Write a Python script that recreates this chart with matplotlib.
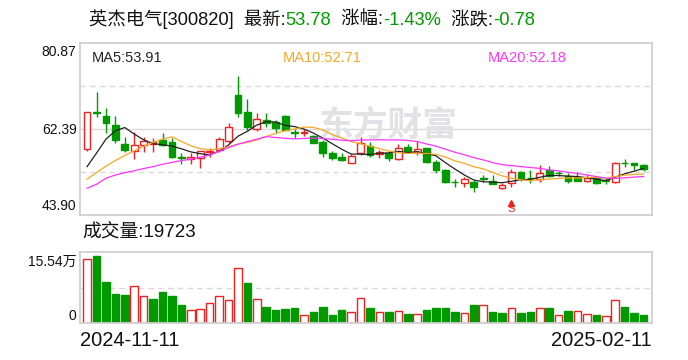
import matplotlib
matplotlib.use("Agg")
import matplotlib.pyplot as plt
import numpy as np

plt.rcParams["font.family"] = ["Liberation Sans", "Noto Sans CJK SC"]

# daily K-line, 2024-11-11 .. 2025-02-11 (60 trading days)
opens = [58.15, 65.90, 65.18, 63.25, 59.16, 57.60, 58.89, 59.16, 59.96, 59.60,
         56.30, 56.00, 56.09, 57.35, 57.88, 59.75, 69.70, 66.04, 62.45, 64.32,
         63.96, 65.18, 61.70, 61.60, 60.88, 59.66, 57.30, 56.43, 55.15, 57.16,
         58.74, 57.10, 57.30, 55.88, 58.46, 57.50, 58.24, 55.36, 53.58, 51.00,
         50.85, 51.06, 51.80, 51.27, 49.65, 50.85, 53.08, 51.90, 51.58, 53.58,
         52.90, 52.35, 52.00, 51.27, 51.92, 51.30, 50.93, 55.05, 55.05, 54.60]
closes = [65.98, 65.89, 63.74, 60.03, 57.88, 58.89, 59.75, 59.60, 58.95, 56.31,
          56.10, 56.40, 57.60, 57.75, 60.18, 62.88, 65.76, 62.88, 64.47, 63.74,
          62.54, 62.17, 61.60, 61.80, 59.44, 57.16, 56.09, 55.73, 56.59, 59.32,
          56.80, 57.40, 56.10, 58.37, 57.73, 58.00, 55.36, 53.58, 51.06, 50.90,
          51.58, 49.99, 51.70, 50.57, 50.35, 53.08, 51.80, 51.75, 53.00, 52.36,
          52.87, 51.27, 51.30, 51.80, 50.72, 51.27, 55.02, 55.00, 54.56, 53.78]
highs = [66.10, 70.34, 66.84, 65.18, 60.73, 61.74, 60.61, 60.39, 61.46, 60.39,
         57.30, 57.16, 57.65, 58.40, 60.73, 63.61, 73.78, 68.77, 65.76, 65.76,
         64.32, 65.30, 62.30, 62.30, 61.00, 60.00, 57.60, 57.20, 57.00, 60.60,
         59.50, 57.90, 57.60, 59.10, 59.20, 59.90, 58.40, 55.70, 53.70, 51.60,
         52.10, 51.40, 52.50, 52.40, 50.70, 53.70, 53.30, 53.60, 54.60, 54.40,
         53.40, 53.00, 53.10, 52.70, 52.30, 51.80, 55.20, 55.90, 55.10, 54.80]
lows = [57.72, 65.03, 61.59, 59.32, 57.45, 55.88, 57.51, 57.40, 58.74, 56.09,
        54.80, 54.80, 53.94, 56.30, 57.51, 59.32, 65.03, 62.17, 62.02, 62.75,
        61.60, 62.10, 60.40, 60.80, 59.30, 56.40, 55.70, 55.40, 55.00, 56.80,
        56.40, 56.10, 55.60, 55.70, 57.20, 56.80, 55.00, 53.00, 50.85, 50.00,
        50.00, 48.90, 51.06, 50.57, 49.40, 50.00, 51.30, 50.70, 51.06, 52.10,
        52.30, 50.85, 51.27, 51.06, 50.50, 50.60, 50.72, 54.20, 53.60, 53.30]
# volume in 万手
volumes = [14.84, 15.54, 9.51, 6.72, 6.49, 8.51, 6.19, 5.57, 7.19, 6.26,
           4.17, 2.94, 3.18, 4.56, 6.19, 5.26, 12.68, 9.28, 5.49, 3.71,
           3.01, 3.25, 3.48, 1.78, 2.55, 3.71, 1.86, 3.01, 2.55, 5.72,
           3.48, 2.55, 2.55, 2.78, 2.09, 2.09, 3.01, 3.48, 3.48, 2.55,
           2.24, 4.17, 4.17, 2.55, 2.32, 3.40, 2.32, 2.55, 3.40, 3.40,
           1.78, 2.78, 2.78, 2.09, 1.86, 1.55, 5.26, 3.71, 2.32, 1.97]
latest_volume = 19723
ma5 = [54.30, 57.20, 60.20, 62.00, 62.70, 61.29, 60.06, 59.23, 59.01, 58.70,
       58.14, 57.47, 57.07, 56.83, 57.61, 58.96, 60.83, 61.89, 63.23, 63.95,
       63.88, 63.16, 62.90, 62.37, 61.51, 60.43, 59.22, 58.04, 57.00, 56.98,
       56.91, 57.17, 57.24, 57.60, 57.28, 57.52, 57.11, 56.61, 55.15, 53.78,
       52.50, 51.42, 51.05, 50.95, 50.84, 51.14, 51.50, 51.52, 52.01, 52.41,
       52.37, 52.26, 52.16, 51.92, 51.59, 51.27, 52.02, 52.76, 53.31, 53.91]
ma10 = [51.60, 53.00, 54.40, 55.60, 56.70, 57.70, 58.70, 59.50, 60.20, 60.70,
        59.71, 58.77, 58.15, 57.92, 58.15, 58.56, 59.16, 59.49, 60.04, 60.78,
        61.43, 62.00, 62.40, 62.80, 62.73, 62.16, 61.19, 60.47, 59.69, 59.24,
        58.67, 58.19, 57.64, 57.30, 57.13, 57.21, 57.14, 56.93, 56.37, 55.53,
        55.01, 54.27, 53.83, 53.05, 52.31, 51.82, 51.46, 51.28, 51.48, 51.62,
        51.75, 51.88, 51.84, 51.96, 52.00, 51.82, 52.14, 52.46, 52.62, 52.71]
ma20 = [49.65, 50.50, 51.80, 52.50, 53.00, 53.40, 53.90, 54.30, 54.80, 55.20,
        55.60, 55.90, 56.30, 56.80, 57.60, 58.40, 59.10, 59.70, 60.20, 60.74,
        60.56, 60.38, 60.27, 60.36, 60.44, 60.35, 60.17, 59.98, 59.86, 60.01,
        60.04, 60.09, 60.02, 60.05, 59.93, 59.68, 59.16, 58.70, 58.03, 57.39,
        56.84, 56.23, 55.74, 55.17, 54.72, 54.52, 54.30, 54.10, 53.92, 53.58,
        53.38, 53.07, 52.83, 52.51, 52.15, 51.82, 51.80, 51.87, 52.05, 52.18]
price_lo, price_hi = 43.90, 80.87
start_date, end_date = "2024-11-11", "2025-02-11"
signal_idx = 45

RED = "#f02020"
GREEN = "#009a00"
GRID = "#d9d9d9"
FRAME = "#d0d0d0"
TXT = "#111111"

o = np.array(opens); c = np.array(closes)
h = np.array(highs); l = np.array(lows)
x = np.arange(len(c))
up = c >= o
col = np.where(up, RED, GREEN)
face = np.where(up, "white", GREEN)
blo = np.minimum(o, c)
bhi = np.maximum(o, c)

fig = plt.figure(figsize=(6.88, 3.6), dpi=100)
ax = fig.add_axes([80 / 688, 1 - 215 / 360, 572 / 688, 172 / 360])
axv = fig.add_axes([80 / 688, 1 - 323 / 360, 572 / 688, 71 / 360])

# price panel
rng = price_hi - price_lo
ax.axhline(price_lo + 0.25 * rng, color=GRID, lw=1, ls=(0, (4, 3)), zorder=0)
ax.axhline(price_lo + 0.5 * rng, color=GRID, lw=1, zorder=0)
ax.axhline(price_lo + 0.75 * rng, color=GRID, lw=1, ls=(0, (4, 3)), zorder=0)

ax.vlines(x, l, blo, colors=col, lw=1, zorder=2)
ax.vlines(x, bhi, h, colors=col, lw=1, zorder=2)
ax.bar(x, np.maximum(bhi - blo, 0.07), bottom=blo, width=0.72,
       color=face, edgecolor=col, linewidth=1, zorder=2)

ax.plot(x, ma5, color="#222222", lw=0.9, zorder=3)
ax.plot(x, ma10, color="#f7a823", lw=0.9, zorder=3)
ax.plot(x, ma20, color="#ff33ff", lw=0.9, zorder=3)

ax.set_xlim(-0.75, len(c) - 0.1)
ax.set_ylim(price_lo, price_hi)

ax.text(0.021, 0.915, "MA5:%.2f" % ma5[-1], transform=ax.transAxes,
        fontsize=10.5, color="#222222", va="center")
ax.text(0.355, 0.915, "MA10:%.2f" % ma10[-1], transform=ax.transAxes,
        fontsize=10.5, color="#f7a823", va="center")
ax.text(0.712, 0.915, "MA20:%.2f" % ma20[-1], transform=ax.transAxes,
        fontsize=10.5, color="#ff33ff", va="center")

for yy, val in [(0.948, price_hi), (0.494, (price_hi + price_lo) / 2), (0.052, price_lo)]:
    ax.text(-0.006, yy, "%.2f" % val, transform=ax.transAxes, ha="right",
            va="center", fontsize=10, color=TXT)

# watermark
ax.text(0.54, 0.52, "东方财富", transform=ax.transAxes, ha="center", va="center",
        fontsize=25, fontweight="bold", color="#e2e2e6", zorder=1)

# sell signal mark
ax.plot(signal_idx, 0.07, marker="^", ms=4, color=RED,
        transform=ax.get_xaxis_transform(), clip_on=False, zorder=4)
ax.text(signal_idx, 0.035, "S", transform=ax.get_xaxis_transform(),
        ha="center", va="center", fontsize=8, color=RED, zorder=4)

# volume panel
v = np.array(volumes)
prev = np.r_[o[0], c[:-1]]
vup = c >= prev
vcol = np.where(vup, RED, GREEN)
vface = np.where(vup, "white", GREEN)
vmax = v.max()
axv.set_ylim(0, vmax * 1.06)
axv.set_xlim(-0.75, len(c) - 0.1)
axv.axhline(vmax * 0.53, color=GRID, lw=1, ls=(0, (4, 3)), zorder=0)
axv.bar(x, v, width=0.8, color=vface, edgecolor=vcol, linewidth=1, zorder=2)
axv.text(-0.006, 0.86, "%.2f万" % vmax, transform=axv.transAxes, ha="right",
         va="center", fontsize=10, color=TXT)
axv.text(-0.006, 0.10, "0", transform=axv.transAxes, ha="right",
         va="center", fontsize=10, color=TXT)

for a in (ax, axv):
    a.set_xticks([])
    a.set_yticks([])
    for s in a.spines.values():
        s.set_color(FRAME)
        s.set_linewidth(1.3)

fig.text(82 / 688, 1 - 233 / 360, "成交量:%d" % latest_volume,
         fontsize=13.5, va="center", color=TXT)
fig.text(80 / 688, 1 - 340 / 360, start_date, fontsize=14.5, va="center", color=TXT)
fig.text(652 / 688, 1 - 340 / 360, end_date, fontsize=14.5, va="center", ha="right", color=TXT)

# title with coloured values
last = closes[-1]
chg = closes[-1] - closes[-2]
pct = chg / closes[-2] * 100
parts = [("英杰电气[300820]  最新:", TXT), ("%.2f" % last, GREEN),
         ("  涨幅:", TXT), ("%.2f%%" % pct, GREEN),
         ("  涨跌:", TXT), ("%.2f" % chg, GREEN)]
r = fig.canvas.get_renderer()
tx = 89 / 688
for s, cc in parts:
    t = fig.text(tx, 1 - 25 / 360, s, fontsize=13.2, color=cc, va="baseline")
    tx = t.get_window_extent(r).x1 / fig.bbox.width

fig.savefig("out.png", dpi=100)
